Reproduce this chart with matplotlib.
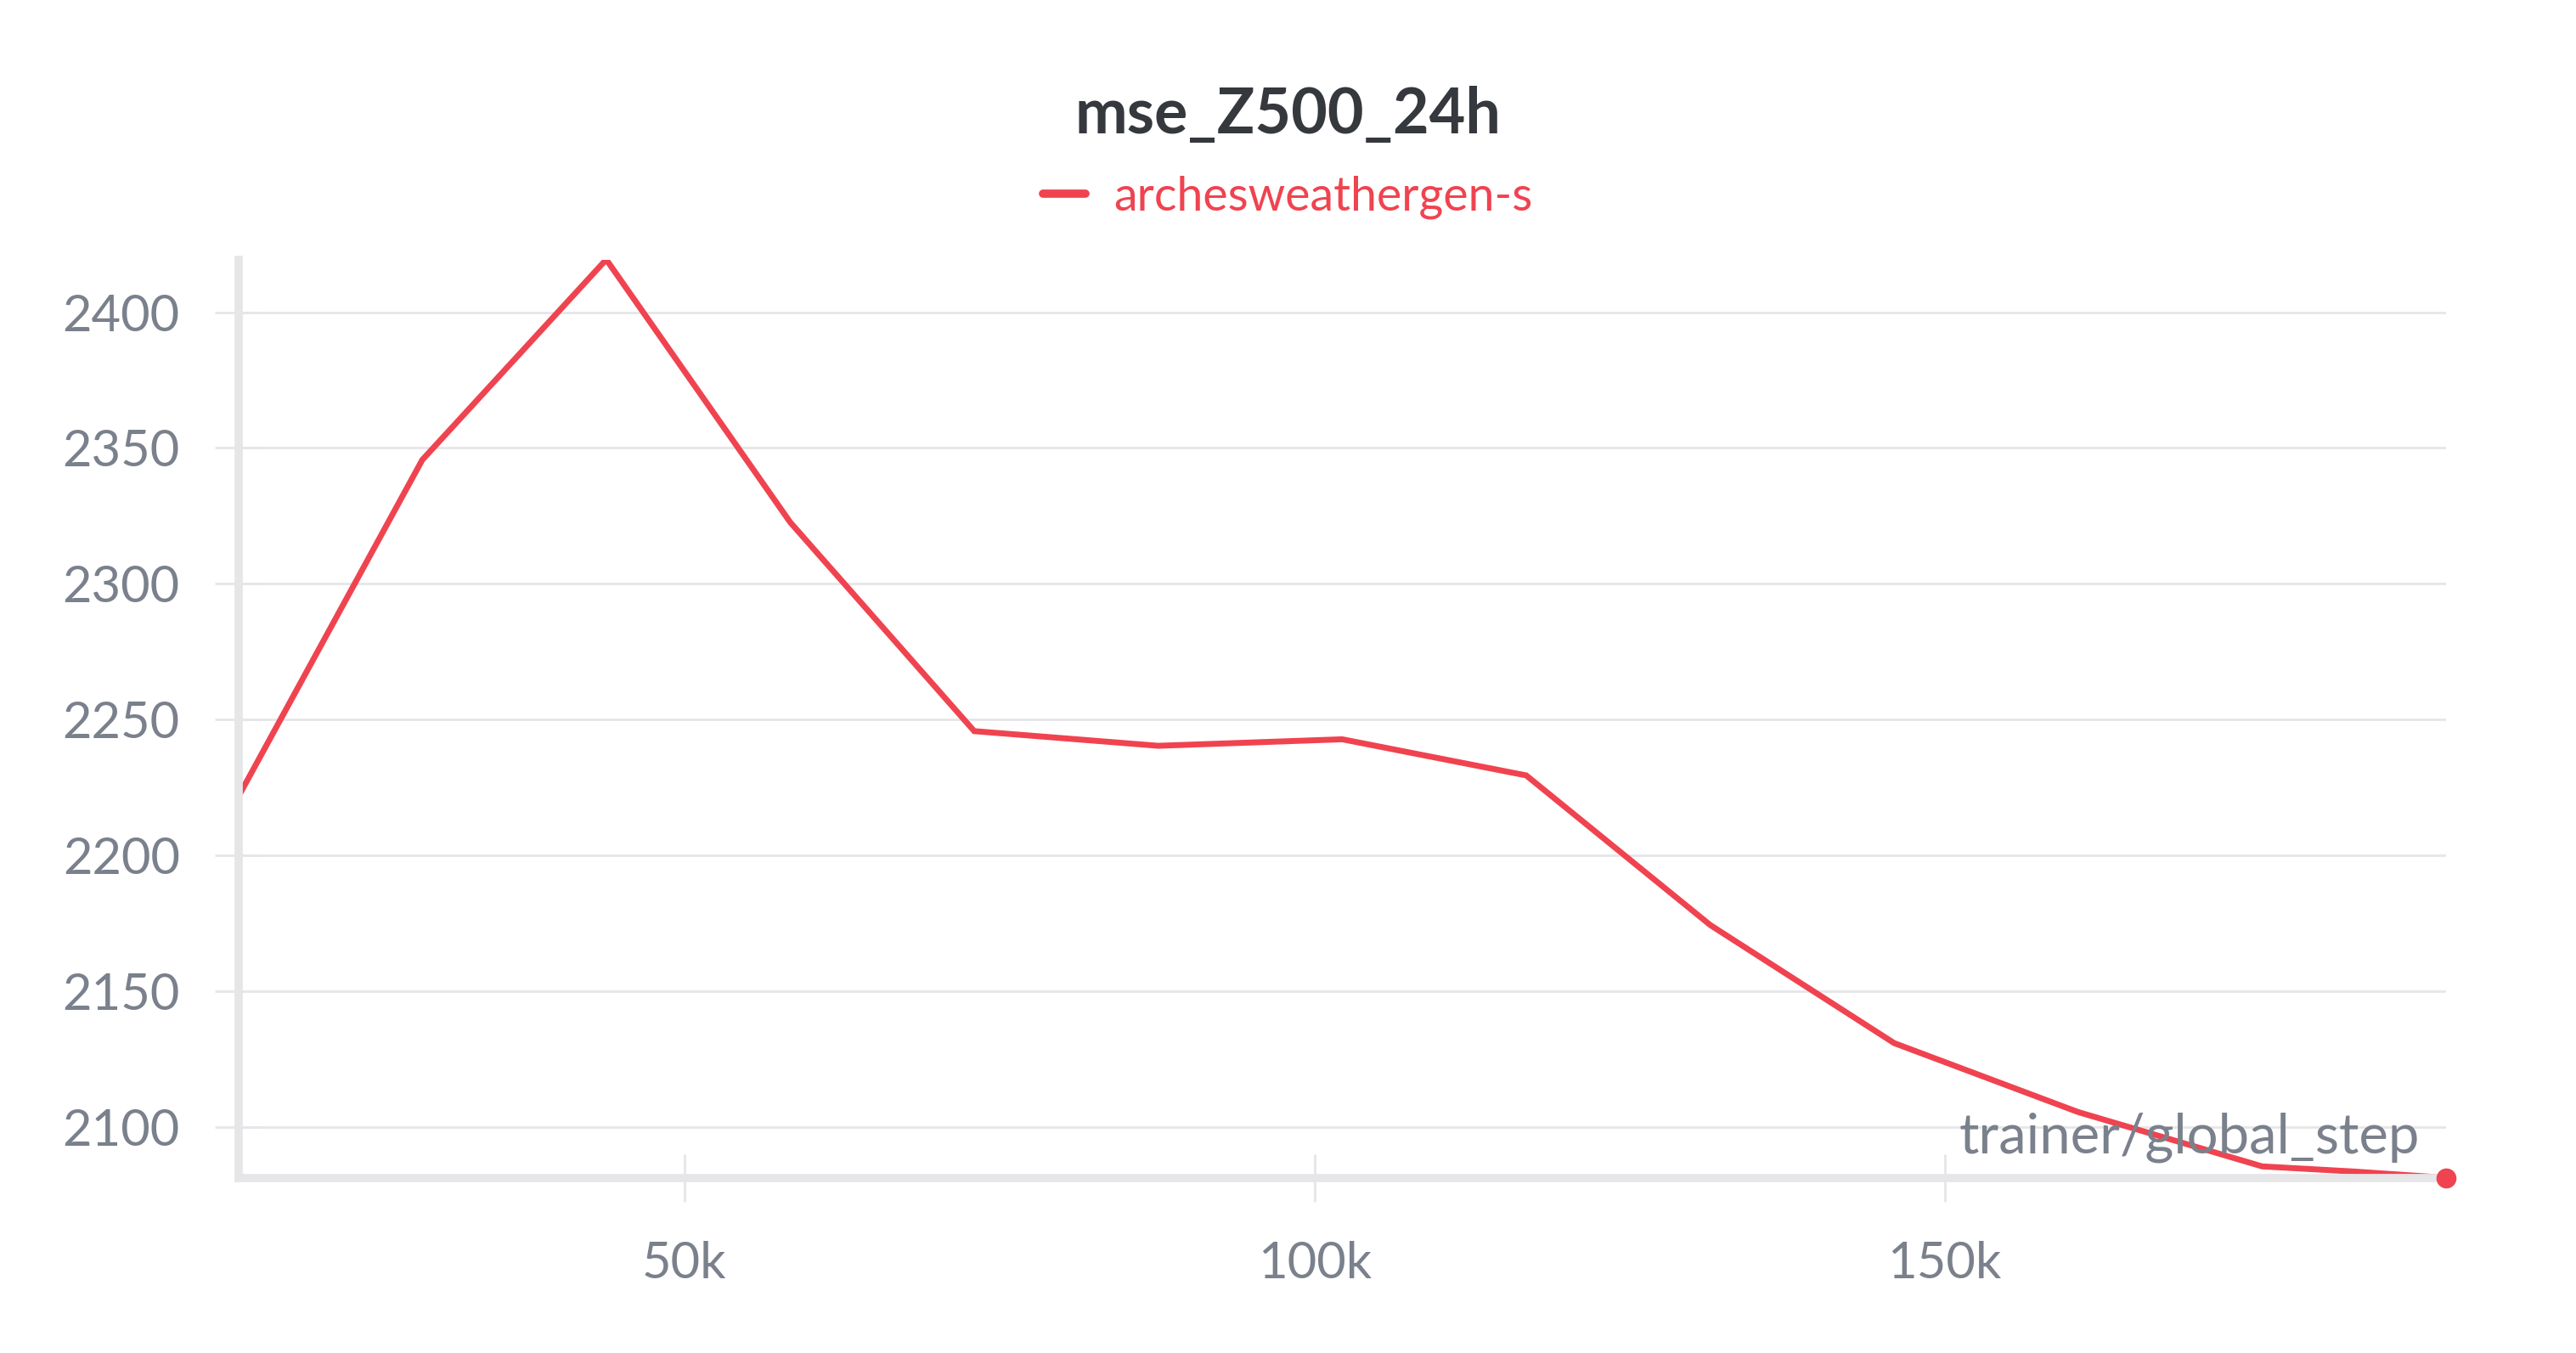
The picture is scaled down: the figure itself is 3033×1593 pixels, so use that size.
import matplotlib.pyplot as plt
from matplotlib.lines import Line2D
from matplotlib.ticker import FuncFormatter

steps = [14600, 29200, 43800, 58400, 73000, 87600, 102200, 116800,
         131400, 146000, 160600, 175200, 182500, 189800]
mse = [2221.5, 2345.6, 2419.4, 2322.6, 2245.7, 2240.3, 2242.7, 2229.4,
       2174.3, 2130.8, 2105.4, 2085.4, 2083.5, 2081.2]
run_name = 'archesweathergen-s'
yticks = [2100, 2150, 2200, 2250, 2300, 2350, 2400]
xticks = [50000, 100000, 150000]

red = '#F04350'
gray = '#7A818C'
light = '#E6E6E8'

plt.rcParams['font.family'] = ['Lato', 'DejaVu Sans']

fig = plt.figure(figsize=(30.33, 15.93), dpi=100)
ax = fig.add_axes([0.0925, 0.1295, 0.8571, 0.6787])

ax.plot(steps, mse, color=red, lw=5, solid_joinstyle='miter')
ax.plot(steps[-1], mse[-1], 'o', color=red, ms=16, clip_on=False, zorder=5)

ax.set_xlim(steps[0], steps[-1])
ax.set_ylim(min(mse), max(mse))
ax.set_xticks(xticks)
ax.set_yticks(yticks)
ax.xaxis.set_major_formatter(FuncFormatter(lambda v, p: f'{int(v/1000)}k'))

for s in ['top', 'right']:
    ax.spines[s].set_visible(False)
for s in ['left', 'bottom']:
    ax.spines[s].set_color(light)
    ax.spines[s].set_linewidth(7)

ax.grid(axis='y', color=light, lw=2)
ax.set_axisbelow(True)
ax.tick_params(axis='both', direction='inout', length=41, width=2,
               color=light, labelcolor=gray, labelsize=43)
ax.tick_params(axis='y', pad=29)
ax.tick_params(axis='x', pad=33)

ax.text(0.988, 0.027, 'trainer/global_step', transform=ax.transAxes,
        ha='right', va='baseline', fontsize=47, color=gray)

fig.suptitle('mse_Z500_24h', x=0.5, y=1 - 135 / 1593, va='center',
             fontsize=53, fontweight='bold', color='#35383C')

handle = Line2D([], [], color=red, lw=7, solid_capstyle='round')
fig.legend(handles=[handle], labels=[run_name], loc='center',
           bbox_to_anchor=(0.5, 1 - 232 / 1593), frameon=False,
           fontsize=40, labelcolor=red, handlelength=0.9, handletextpad=0.6)

fig.savefig('out.png', dpi=100, facecolor='white')
